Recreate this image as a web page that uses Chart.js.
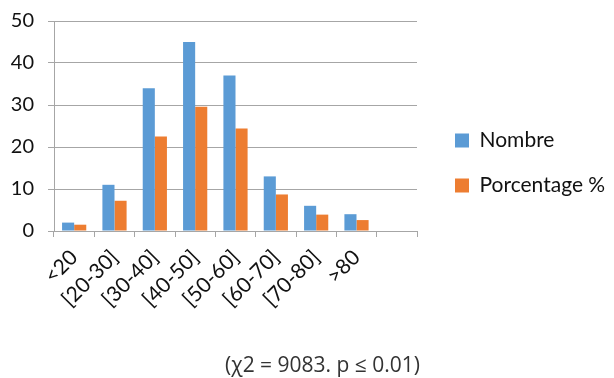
<!DOCTYPE html>
<html><head><meta charset="utf-8">
<script src="https://cdn.jsdelivr.net/npm/chart.js@4"></script>
<style>
html,body{margin:0;padding:0;background:#fff;}
#wrap{position:relative;width:614px;height:378px;}
#cap{position:absolute;left:225px;top:350px;font-family:"Open Sans",sans-serif;font-size:21px;color:#333;white-space:nowrap;}
</style></head><body>
<div id="wrap"><canvas id="c" width="614" height="378"></canvas>
<div id="cap">(χ2 = 9083. p ≤ 0.01)</div></div>
<script>
const categories = ['<20','[20-30]','[30-40]','[40-50]','[50-60]','[60-70]','[70-80]','>80',''];
const nombre = [2, 11, 34, 45, 37, 13, 6, 4, null];
const porcentage = [1.5, 7.2, 22.5, 29.6, 24.4, 8.7, 3.9, 2.6, null];
const yTicks = [0, 10, 20, 30, 40, 50];
const gridCol = '#A6A6A6';
const txtCol = '#111';
const legendFix = {
  id: 'legendFix',
  afterInit(chart) {
    const lg = chart.legend;
    if (!lg) return;
    const origFit = lg.fit.bind(lg);
    lg.fit = function () { origFit(); this.width = 197; };
  },
  afterLayout(chart) {
    const lg = chart.legend;
    if (!lg) return;
    const w = lg.right - lg.left;
    lg.left += 14; lg.right = lg.left + w;
    lg.top -= 26; lg.bottom -= 26;
  }
};
new Chart(document.getElementById('c'), {
  type: 'bar',
  data: {
    labels: categories,
    datasets: [
      {label: 'Nombre', data: nombre, backgroundColor: '#5B9BD5', categoryPercentage: 0.6, barPercentage: 1.0},
      {label: 'Porcentage %', data: porcentage, backgroundColor: '#ED7D31', categoryPercentage: 0.6, barPercentage: 1.0}
    ]
  },
  plugins: [legendFix],
  options: {
    responsive: false,
    animation: false,
    layout: {padding: {top: 0, right: 0, left: 0, bottom: 0}},
    plugins: {
      legend: {
        position: 'right',
        labels: {boxWidth: 14, boxHeight: 14, padding: 24, color: txtCol, font: {family: 'Lato', size: 21}}
      },
      tooltip: {enabled: false}
    },
    scales: {
      x: {
        offset: true,
        grid: {offset: true, drawOnChartArea: false, drawTicks: true, tickLength: 6, color: gridCol},
        border: {color: gridCol},
        ticks: {minRotation: 45, maxRotation: 45, color: txtCol, font: {family: 'Lato', size: 21}, padding: 8},
        afterFit: s => { s.height = 147; }
      },
      y: {
        min: 0, max: 50,
        afterBuildTicks: s => { s.ticks = yTicks.map(v => ({value: v})); },
        grid: {color: gridCol, tickLength: 6},
        border: {color: gridCol},
        ticks: {color: txtCol, font: {family: 'Lato', size: 20}, padding: 14},
        afterFit: s => { s.width = 54; s.paddingTop = 21; }
      }
    }
  }
});
</script></body></html>
